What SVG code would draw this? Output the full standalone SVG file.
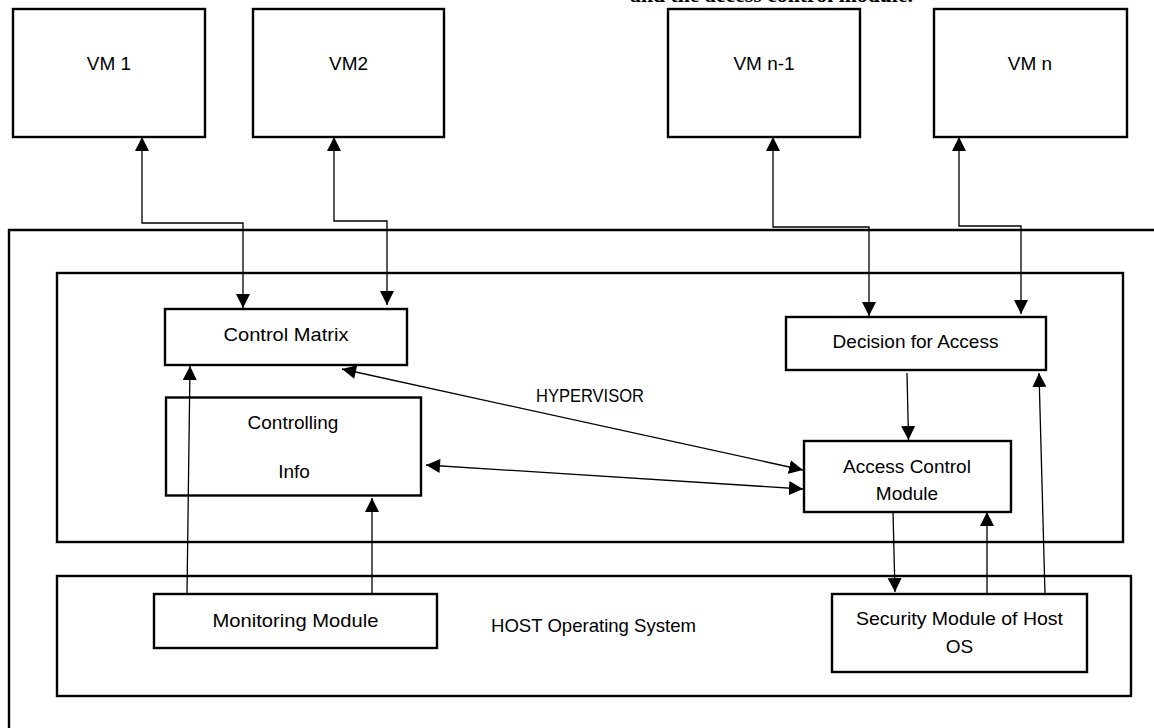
<svg xmlns="http://www.w3.org/2000/svg" width="1154" height="728" viewBox="0 0 1154 728">
<style>
  .box { fill: #fff; stroke: #000; stroke-width: 2.4; }
  .frame { fill: none; stroke: #000; stroke-width: 2.4; }
  .lbl { font-family: "Liberation Sans", Arial, sans-serif; font-size: 19px; fill: #000; text-anchor: middle; }
  .cap { font-family: "Liberation Serif", "Times New Roman", serif; font-size: 21px; font-weight: bold; fill: #000; }
  .con { fill: none; stroke: #000; stroke-width: 1.3; }
  .a2 { marker-start: url(#ahS); marker-end: url(#ahE); }
  .a1 { marker-end: url(#ahE); }
</style>
<defs>
  <marker id="ahE" markerUnits="userSpaceOnUse" markerWidth="15" markerHeight="15" refX="14" refY="7" orient="auto">
    <path d="M0,0 L14,7 L0,14 z" fill="#000"/>
  </marker>
  <marker id="ahS" markerUnits="userSpaceOnUse" markerWidth="15" markerHeight="15" refX="0" refY="7" orient="auto">
    <path d="M14,0 L0,7 L14,14 z" fill="#000"/>
  </marker>
</defs>
<rect width="1154" height="728" fill="#fff"/>

<text class="cap" x="630" y="2" textLength="283" lengthAdjust="spacingAndGlyphs">and the access control module.</text>

<g id="outer">
  <path class="frame" d="M1160,230 H9 V740"/>
</g>
<g id="hypervisor">
  <rect class="frame" x="57" y="273" width="1066" height="269"/>
  <text class="lbl" x="590" y="402" textLength="108" lengthAdjust="spacingAndGlyphs">HYPERVISOR</text>
</g>
<g id="hostos">
  <rect class="frame" x="57" y="576" width="1074" height="120"/>
  <text class="lbl" x="593.5" y="632" textLength="205" lengthAdjust="spacingAndGlyphs">HOST Operating System</text>
</g>

<g id="vm1">
  <rect class="box" x="13" y="9" width="192" height="128"/>
  <text class="lbl" x="109" y="70">VM 1</text>
</g>
<g id="vm2">
  <rect class="box" x="253" y="9" width="191" height="128"/>
  <text class="lbl" x="348.5" y="70">VM2</text>
</g>
<g id="vmn1">
  <rect class="box" x="668" y="9" width="192" height="128"/>
  <text class="lbl" x="764" y="70">VM n-1</text>
</g>
<g id="vmn">
  <rect class="box" x="934" y="9" width="193" height="128"/>
  <text class="lbl" x="1030" y="70">VM n</text>
</g>

<g id="controlmatrix">
  <rect class="box" x="165" y="309" width="242" height="56"/>
  <text class="lbl" x="286" y="341" textLength="125" lengthAdjust="spacingAndGlyphs">Control Matrix</text>
</g>
<g id="controllinginfo">
  <rect class="box" x="166" y="397.5" width="255" height="98"/>
  <text class="lbl" x="293" y="428.5">Controlling</text>
  <text class="lbl" x="294" y="478">Info</text>
</g>
<g id="decision">
  <rect class="box" x="786" y="317" width="260" height="53"/>
  <text class="lbl" x="915.5" y="348">Decision for Access</text>
</g>
<g id="acm">
  <rect class="box" x="804" y="441" width="207" height="71"/>
  <text class="lbl" x="907" y="473">Access Control</text>
  <text class="lbl" x="907" y="500">Module</text>
</g>
<g id="monitoring">
  <rect class="box" x="154" y="594" width="283" height="54"/>
  <text class="lbl" x="295.5" y="627" textLength="166" lengthAdjust="spacingAndGlyphs">Monitoring Module</text>
</g>
<g id="security">
  <rect class="box" x="832" y="594" width="255" height="78"/>
  <text class="lbl" x="959.5" y="625" textLength="207" lengthAdjust="spacingAndGlyphs">Security Module of Host</text>
  <text class="lbl" x="959.5" y="653">OS</text>
</g>

<g id="connectors">
  <path class="con a2" d="M243,308 V223 H142 V137"/>
  <path class="con a2" d="M387,305 V221 H334 V137"/>
  <path class="con a2" d="M869,316 V227 H773 V137"/>
  <path class="con a2" d="M1021,314 V226 H959 V137"/>
  <path class="con a2" d="M342,369 L803,470"/>
  <path class="con a2" d="M426,465 L803,489"/>
  <path class="con a1" d="M907,373 L908.5,440"/>
  <path class="con a1" d="M893,512 L895,592"/>
  <path class="con a1" d="M987,594 L987,512"/>
  <path class="con a1" d="M1045,594 L1039,373"/>
  <path class="con a1" d="M187,594 L190,366"/>
  <path class="con a1" d="M372,594 L372,498"/>
</g>
</svg>
